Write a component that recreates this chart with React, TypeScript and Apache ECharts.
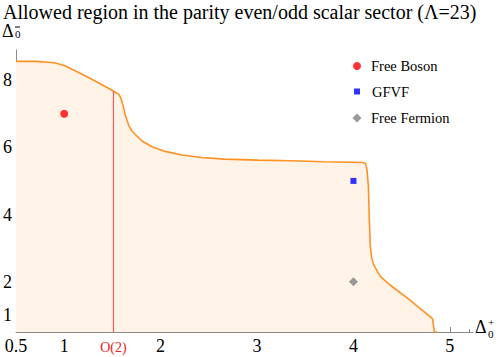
import React, { useEffect, useRef } from "react";
import * as echarts from "echarts";

const FONT = '"Liberation Serif", "Times New Roman", serif';

// Boundary of the allowed region (Δ0+, Δ0-)
const boundaryX = [
  0.5, 0.7, 0.9, 1.0, 1.155, 1.326, 1.515, 1.567, 1.59, 1.61, 1.635, 1.67, 1.704,
  1.807, 1.91, 2.047, 2.22, 2.425, 2.665, 3.01, 3.35, 3.69, 4.1, 4.125, 4.14,
  4.155, 4.165, 4.175, 4.19, 4.21, 4.28, 4.38, 4.56, 4.82, 4.84, 4.87,
];
const boundaryY = [
  8.56, 8.56, 8.52, 8.44, 8.22, 7.97, 7.67, 7.58, 7.45, 7.25, 6.95, 6.65, 6.48,
  6.19, 6.02, 5.88, 5.77, 5.7, 5.65, 5.62, 5.6, 5.57, 5.55, 5.52, 5.35,
  4.84, 3.84, 3.05, 2.7, 2.5, 2.15, 1.9, 1.51, 0.9, 0.5, 0.5,
];

// O(2) model marker
const o2X = 1.511;
const o2TopY = 7.67;
const o2Label = "O(2)";

// Points
const freeBoson = [[1, 7]];
const gfvf = [[4, 5]];
const freeFermion = [[4, 2]];

// Axis ticks
const xMajorTicks = [0.5, 1, 2, 3, 4, 5];
const xMinorTicks = [
  0.6, 0.8, 1.2, 1.4, 1.6, 1.8, 2.2, 2.4, 2.6, 2.8, 3.2, 3.4, 3.6, 3.8, 4.2, 4.4,
  4.6, 4.8, 5.2,
];
const yMajorTicks = [1, 2, 4, 6, 8];
const yMinorTicks = [1.5, 2.5, 3, 3.5, 4.5, 5, 5.5, 6.5, 7, 7.5, 8.5];

const X_MIN = 0.5;
const X_MAX = 5.24;
const Y_MIN = 0.5;
const Y_MAX = 8.9;

const title = "Allowed region in the parity even/odd scalar sector (Λ=23)";

export default function App() {
  const ref = useRef<HTMLDivElement>(null);

  useEffect(() => {
    document.body.style.margin = "0";
    if (!ref.current) return;
    const chart = echarts.init(ref.current, null, { renderer: "svg" });
    const axisColor = "#8a8a8a";
    const baseX = {
      type: "value",
      min: X_MIN,
      max: X_MAX,
      position: "bottom",
      splitLine: { show: false },
    };
    const baseY = {
      type: "value",
      min: Y_MIN,
      max: Y_MAX,
      position: "left",
      splitLine: { show: false },
    };
    const boundary = boundaryX.map((x, i) => [x, boundaryY[i]]);

    chart.setOption({
      animation: false,
      backgroundColor: "#ffffff",
      textStyle: { fontFamily: FONT },
      title: {
        text: title,
        left: 3,
        top: 0,
        padding: [0, 0, 0, 0],
        textStyle: {
          fontFamily: FONT,
          fontSize: 20,
          fontWeight: "normal",
          color: "#000",
          lineHeight: 24,
        },
      },
      grid: { left: 13, right: 25, top: 50, bottom: 25, containLabel: false },
      xAxis: [
        {
          ...baseX,
          axisLine: { show: true, lineStyle: { color: axisColor, width: 1 } },
          axisTick: {
            show: true,
            inside: true,
            length: 5,
            customValues: xMajorTicks,
            lineStyle: { color: axisColor },
          },
          axisLabel: {
            show: true,
            customValues: xMajorTicks,
            margin: 5,
            fontFamily: FONT,
            fontSize: 18,
            color: "#000",
            formatter: (v: number) => String(v),
          },
        },
        {
          ...baseX,
          axisLine: { show: false },
          axisTick: {
            show: true,
            inside: true,
            length: 3,
            customValues: xMinorTicks,
            lineStyle: { color: axisColor },
          },
          axisLabel: { show: false },
        },
        {
          ...baseX,
          axisLine: { show: false },
          axisTick: {
            show: true,
            inside: true,
            length: 6,
            customValues: [o2X],
            lineStyle: { color: "#d01818", width: 2 },
          },
          axisLabel: {
            show: true,
            customValues: [o2X],
            margin: 8,
            fontFamily: FONT,
            fontSize: 14,
            color: "#f02020",
            formatter: () => o2Label,
          },
        },
      ],
      yAxis: [
        {
          ...baseY,
          axisLine: { show: true, lineStyle: { color: axisColor, width: 1 } },
          axisTick: {
            show: true,
            inside: true,
            length: 5,
            customValues: yMajorTicks,
            lineStyle: { color: axisColor },
          },
          axisLabel: {
            show: true,
            customValues: yMajorTicks,
            margin: 4,
            fontFamily: FONT,
            fontSize: 18,
            color: "#000",
            formatter: (v: number) => String(v),
          },
        },
        {
          ...baseY,
          axisLine: { show: false },
          axisTick: {
            show: true,
            inside: true,
            length: 3,
            customValues: yMinorTicks,
            lineStyle: { color: axisColor },
          },
          axisLabel: { show: false },
        },
      ],
      legend: [
        {
          data: [{ name: "Free Boson", icon: "circle" }],
          left: 353,
          top: 58,
          padding: 0,
          itemWidth: 8,
          itemHeight: 8,
          textStyle: { fontFamily: FONT, fontSize: 14.5, color: "#000", padding: [0, 0, 0, 5], lineHeight: 16 },
        },
        {
          data: [{ name: "GFVF", icon: "rect" }],
          left: 354,
          top: 83.5,
          padding: 0,
          itemWidth: 6,
          itemHeight: 6,
          textStyle: { fontFamily: FONT, fontSize: 14.5, color: "#000", padding: [0, 0, 0, 7], lineHeight: 16 },
        },
        {
          data: [{ name: "Free Fermion", icon: "diamond" }],
          left: 352.5,
          top: 110,
          padding: 0,
          itemWidth: 9,
          itemHeight: 9,
          textStyle: { fontFamily: FONT, fontSize: 14.5, color: "#000", padding: [0, 0, 0, 4.5], lineHeight: 16 },
        },
      ],
      graphic: [
        { type: "text", left: 2, top: 22, style: { text: "Δ", font: `18px ${FONT}`, fill: "#000" } },
        {
          type: "line",
          shape: { x1: 15, y1: 27, x2: 20, y2: 27 },
          style: { stroke: "#000", lineWidth: 1 },
        },
        { type: "text", left: 15, top: 28, style: { text: "0", font: `11px ${FONT}`, fill: "#000" } },
        { type: "text", left: 475, top: 318, style: { text: "Δ", font: `18px ${FONT}`, fill: "#000" } },
        { type: "text", left: 488, top: 316, style: { text: "+", font: `11px ${FONT}`, fill: "#000" } },
        { type: "text", left: 488, top: 328, style: { text: "0", font: `11px ${FONT}`, fill: "#000" } },
      ],
      series: [
        {
          name: "boundary",
          type: "line",
          data: boundary,
          showSymbol: false,
          symbol: "none",
          smooth: false,
          lineStyle: { color: "#FF9124", width: 1.6 },
          areaStyle: { color: "#FFF3E8", opacity: 1, origin: "start" },
          z: 1,
          silent: true,
        },
        {
          name: "O2line",
          type: "line",
          data: [
            [o2X, Y_MIN],
            [o2X, o2TopY],
          ],
          showSymbol: false,
          symbol: "none",
          color: "#ff5a5a",
          lineStyle: { color: "#ff5a5a", width: 1.2, opacity: 1 },
          z: 2,
          silent: true,
        },
        {
          name: "Free Boson",
          type: "scatter",
          data: freeBoson,
          symbol: "circle",
          symbolSize: 8,
          itemStyle: { color: "#ff0000" },
          z: 3,
        },
        {
          name: "GFVF",
          type: "scatter",
          data: gfvf,
          symbol: "rect",
          symbolSize: 6,
          itemStyle: { color: "#0000ff" },
          z: 3,
        },
        {
          name: "Free Fermion",
          type: "scatter",
          data: freeFermion,
          symbol: "diamond",
          symbolSize: 9,
          itemStyle: { color: "#808080" },
          z: 3,
        },
      ],
    });
    return () => chart.dispose();
  }, []);

  return <div ref={ref} style={{ width: 498, height: 357 }} />;
}
